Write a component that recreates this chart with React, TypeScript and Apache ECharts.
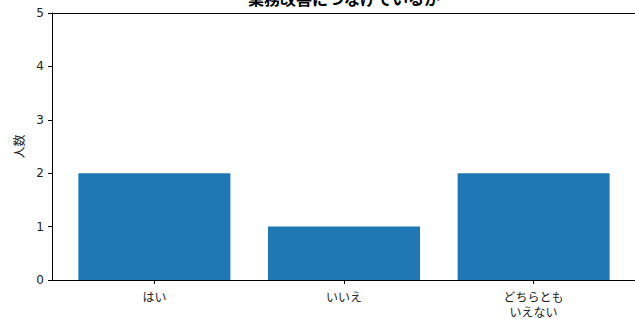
import React, { useEffect, useRef } from "react";
import * as echarts from "echarts";

const titleText = "業務改善につなげているか";
const categories = ["はい", "いいえ", "どちらとも\nいえない"];
const counts = [2, 1, 2];
const yTicks = [0, 1, 2, 3, 4, 5];
const yLabel = "人数";

const FONT = "'DejaVu Sans', 'Noto Sans CJK JP', sans-serif";
const CJK = "'Noto Sans CJK JP', sans-serif";

export default function App() {
  const ref = useRef<HTMLDivElement>(null);
  useEffect(() => {
    if (!ref.current) return;
    const chart = echarts.init(ref.current, undefined, { renderer: "svg" });
    const idx = categories.map((_, i) => i);
    chart.setOption({
      animation: false,
      textStyle: { fontFamily: FONT },
      grid: {
        left: 52,
        right: -1,
        top: 13,
        bottom: 39,
        containLabel: false,
        outerBoundsMode: "none",
      },
      graphic: [
        {
          type: "text",
          style: {
            text: titleText,
            x: 344,
            y: 6,
            textAlign: "center",
            textVerticalAlign: "bottom",
            font: `bold 16px ${CJK}`,
            fill: "#000",
          },
        },
      ],
      xAxis: [
        {
          type: "value",
          min: -0.54,
          max: 2.54,
          position: "bottom",
          splitLine: { show: false },
          axisLine: { show: true, onZero: false, lineStyle: { color: "#000", width: 1 } },
          axisTick: {
            show: true,
            customValues: idx,
            length: 4,
            lineStyle: { color: "#000" },
          },
          axisLabel: {
            show: true,
            customValues: idx,
            formatter: (v: number) => categories[Math.round(v)] ?? "",
            color: "#222",
            fontSize: 12,
            lineHeight: 15,
            margin: 9,
            fontFamily: CJK,
          },
        },
        {
          type: "value",
          min: -0.54,
          max: 2.54,
          position: "top",
          splitLine: { show: false },
          axisLine: { show: true, onZero: false, lineStyle: { color: "#000", width: 1 } },
          axisTick: { show: false },
          axisLabel: { show: false },
        },
      ],
      yAxis: {
        type: "value",
        position: "left",
        min: yTicks[0],
        max: yTicks[yTicks.length - 1],
        interval: 1,
        name: yLabel,
        nameLocation: "middle",
        nameGap: 28,
        nameRotate: 90,
        nameTextStyle: { color: "#222", fontSize: 12, fontFamily: CJK },
        splitLine: { show: false },
        axisLine: { show: true, onZero: false, lineStyle: { color: "#000", width: 1 } },
        axisTick: { show: true, length: 4, lineStyle: { color: "#000" } },
        axisLabel: { color: "#222", fontSize: 12, margin: 8, fontFamily: FONT },
      },
      series: [
        {
          type: "bar",
          xAxisIndex: 0,
          data: counts.map((c, i) => [i, c]),
          barWidth: 152,
          itemStyle: { color: "#1f77b4" },
        },
      ],
    });
    return () => chart.dispose();
  }, []);
  return <div ref={ref} style={{ width: 635, height: 319, position: "absolute", left: 0, top: 0 }} />;
}
